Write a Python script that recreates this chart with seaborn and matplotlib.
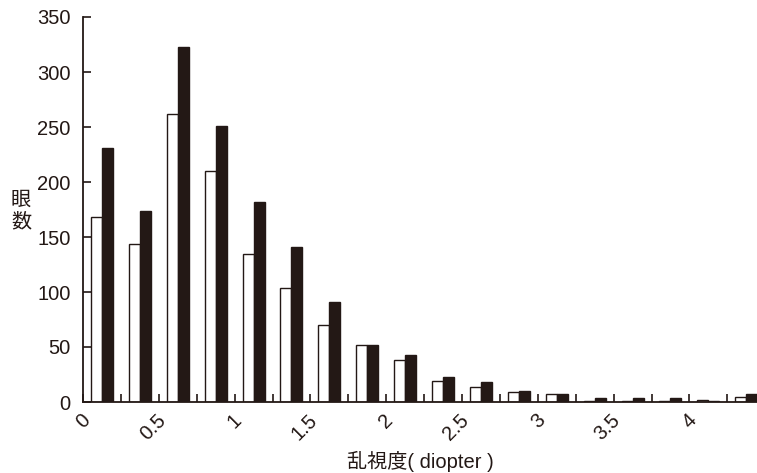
import matplotlib
matplotlib.use("Agg")
import matplotlib.pyplot as plt
import matplotlib.transforms as mtransforms
import seaborn as sns
import pandas as pd
import numpy as np
from matplotlib.ticker import FixedLocator, NullFormatter

# Astigmatism bins (0.25 D wide), lower edge of each bin
bin_edges = [0, 0.25, 0.5, 0.75, 1.0, 1.25, 1.5, 1.75, 2.0, 2.25,
             2.5, 2.75, 3.0, 3.25, 3.5, 3.75, 4.0, 4.25]
# Number of eyes per bin for the two groups
open_counts = [168, 144, 262, 210, 135, 104, 70, 52, 38, 19,
               14, 9, 7, 1, 1, 1, 2, 5]
solid_counts = [231, 174, 323, 251, 182, 141, 91, 52, 43, 23,
                18, 10, 7, 4, 4, 4, 1, 7]
tick_labels = ["0", "0.5", "1", "1.5", "2", "2.5", "3", "3.5", "4"]
y_ticks = [0, 50, 100, 150, 200, 250, 300, 350]

ink = "#231815"
fs = 14.5

sns.set_theme(style="white")
plt.rcParams["font.family"] = ["Liberation Sans", "Noto Sans CJK JP"]

n = len(bin_edges)
df = pd.DataFrame({
    "bin": [str(b) for b in bin_edges] * 2,
    "count": open_counts + solid_counts,
    "group": ["A"] * n + ["B"] * n,
})

fig = plt.figure(figsize=(7.57, 4.73), dpi=100)
ax = fig.add_axes([83 / 757, 1 - 402 / 473, 1 - 83 / 757, (402 - 17) / 473])

sns.barplot(data=df, x="bin", y="count", hue="group", order=[str(b) for b in bin_edges],
            hue_order=["A", "B"], palette=["white", ink], edgecolor=ink,
            linewidth=1.0, width=0.58, legend=False, ax=ax, saturation=1)

ax.set_ylim(0, 350)
ax.set_xlim(-0.5, (757 - 83) / 37.9 - 0.5)

# bin boundary ticks, labelled every 0.5 D
ax.xaxis.set_major_locator(FixedLocator(np.arange(len(tick_labels)) * 2 - 0.5))
ax.xaxis.set_minor_locator(FixedLocator(np.arange(-0.5, n + 0.5, 1)))
ax.set_xticklabels(tick_labels)
ax.xaxis.set_minor_formatter(NullFormatter())
ax.set_yticks(y_ticks)

ax.tick_params(axis="x", which="both", direction="in", length=6, width=1.2,
               color=ink, bottom=True, labelsize=fs, labelcolor=ink, pad=11)
ax.tick_params(axis="y", direction="in", length=6, width=1.2, color=ink,
               left=True, labelsize=fs, labelcolor=ink, pad=9)
shift = mtransforms.ScaledTranslation(4 / 100, 0, fig.dpi_scale_trans)
for lbl in ax.get_xticklabels():
    lbl.set_rotation(45)
    lbl.set_ha("right")
    lbl.set_va("center")
    lbl.set_rotation_mode("anchor")
    lbl.set_transform(lbl.get_transform() + shift)

for side in ["top", "right"]:
    ax.spines[side].set_visible(False)
for side in ["left", "bottom"]:
    ax.spines[side].set_color(ink)
    ax.spines[side].set_linewidth(1.3)

ax.set_xlabel("乱視度( diopter )", fontsize=fs, color=ink, labelpad=5)
ax.set_ylabel("")
fig.text(21 / 757, 1 - 211 / 473, "眼\n数", fontsize=fs, color=ink,
         ha="center", va="center", linespacing=1.05,
         family=["Noto Sans CJK JP"])

fig.savefig("out.png", dpi=100)
